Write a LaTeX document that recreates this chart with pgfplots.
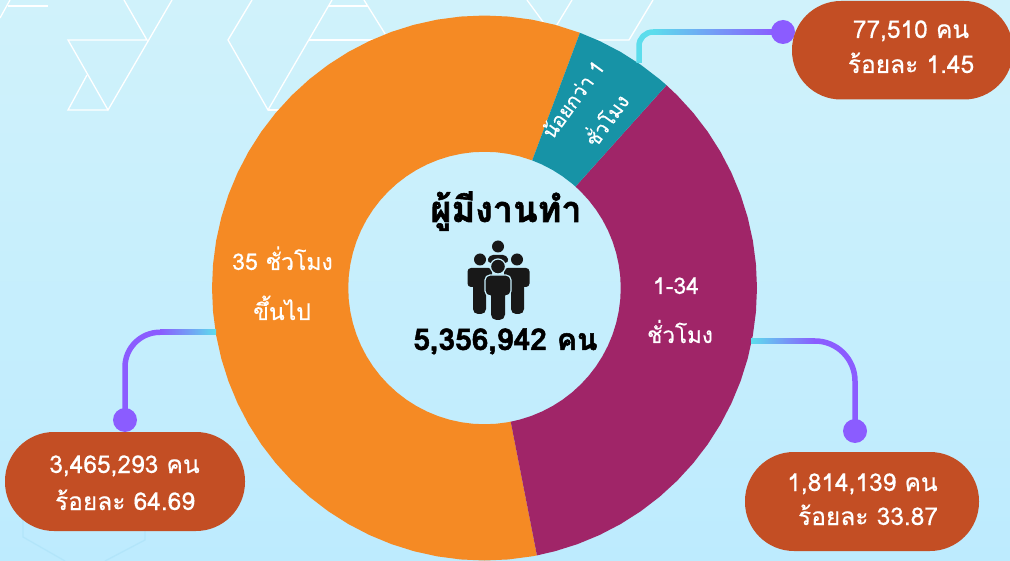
\documentclass[border=0pt]{standalone}
\usepackage{pgfplots}
\pgfplotsset{compat=1.18}
\usepgfplotslibrary{polar}
\usepackage{fontspec}
\setmainfont[Script=Thai,FakeBold=0.4]{Loma}
\newfontfamily\heavyfont[Script=Thai,FakeBold=1.6]{Loma Bold}

\definecolor{colOrange}{HTML}{F58A24}
\definecolor{colTeal}{HTML}{1793A6}
\definecolor{colPurple}{HTML}{A02568}
\definecolor{colPill}{HTML}{C34E24}
\definecolor{colCyan}{HTML}{5CDDEC}
\definecolor{colLine}{HTML}{8B5CFF}
\definecolor{colInk}{HTML}{181818}
\definecolor{colBgTop}{RGB}{208,242,251}
\definecolor{colBgBot}{RGB}{189,235,254}
\definecolor{colHole}{RGB}{200,240,253}
\definecolor{colFaint}{RGB}{178,229,250}

\newcommand{\lab}[4][24.5]{\node[white,anchor=base,inner sep=0pt,#2] at (#3) {\fontsize{#1}{#1}\selectfont #4};}

\begin{document}
\begin{tikzpicture}[x=1pt,y=-1pt]
\useasboundingbox (0,0) rectangle (1010,561);
\clip (0,0) rectangle (1010,561);
\shade[top color=colBgTop,bottom color=colBgBot] (0,0) rectangle (1010,561);

% background pattern
\begin{scope}[white,line width=1.3pt,line join=miter]
\draw (0,18) -- (10,0);
\draw (48,6) -- (8,6);
\draw (124,0) -- (147,40) -- (68,40) -- (108,110) -- (172,0);
\draw (87,75) -- (68,110) -- (108,110);
\draw (252,0) -- (228,40) -- (268,110) -- (332,0);
\draw (268,110) -- (300,110);
\draw (309,40) -- (400,40);
\draw (328,6) -- (368,6);
\draw (364,0) -- (392,45);
\draw (527,0) -- (560,45);
\draw (572,0) -- (555,28);
\draw (653,0) -- (629,40) -- (570,40);
\end{scope}
\draw[colFaint,line width=1.3pt] (23,520) -- (23,537) -- (65,561);
\draw[colFaint,line width=1.3pt] (145,530) -- (145,540) -- (105,561);

% donut: angle in degrees, radius as share of outer edge
\begin{polaraxis}[
    at={(484.5pt,-288pt)},
    anchor=center,
    scale only axis,
    width=545pt,
    height=545pt,
    xmin=0,xmax=360,
    ymin=0,ymax=1,
    hide axis,
    clip=false,
]
% 35 hours and over
\addplot[fill=colOrange,draw=none] coordinates {
    (69.5,1) (75,1) (80,1) (85,1) (90,1) (95,1) (100,1) (105,1) (110,1) (115,1) (120,1)
    (125,1) (130,1) (135,1) (140,1) (145,1) (150,1) (155,1) (160,1) (165,1) (170,1)
    (175,1) (180,1) (185,1) (190,1) (195,1) (200,1) (205,1) (210,1) (215,1) (220,1)
    (225,1) (230,1) (235,1) (240,1) (245,1) (250,1) (255,1) (260,1) (265,1) (270,1)
    (275,1) (280,1) (281.1,1)
    (281.1,.5) (280,.5) (275,.5)
    (270,.5) (265,.5) (260,.5) (255,.5) (250,.5) (245,.5) (240,.5) (235,.5) (230,.5) (225,.5)
    (220,.5) (215,.5) (210,.5) (205,.5) (200,.5) (195,.5) (190,.5) (185,.5) (180,.5) (175,.5)
    (170,.5) (165,.5) (160,.5) (155,.5) (150,.5) (145,.5) (140,.5) (135,.5) (130,.5) (125,.5)
    (120,.5) (115,.5) (110,.5) (105,.5) (100,.5) (95,.5) (90,.5) (85,.5) (80,.5) (75,.5) (69.5,.5)
} -- cycle;
% 1-34 hours
\addplot[fill=colPurple,draw=none] coordinates {
    (-78.9,1) (-75,1) (-70,1) (-65,1) (-60,1) (-55,1) (-50,1) (-45,1) (-40,1) (-35,1) (-30,1)
    (-25,1) (-20,1) (-15,1) (-10,1) (-5,1) (0,1) (5,1) (10,1) (15,1) (20,1)
    (25,1) (30,1) (35,1) (40,1) (45,1) (48.1,1)
    (48.1,.5) (45,.5) (40,.5) (35,.5) (30,.5) (25,.5)
    (20,.5) (15,.5) (10,.5) (5,.5) (0,.5) (-5,.5) (-10,.5) (-15,.5) (-20,.5) (-25,.5)
    (-30,.5) (-35,.5) (-40,.5) (-45,.5) (-50,.5) (-55,.5) (-60,.5) (-65,.5) (-70,.5) (-75,.5) (-78.9,.5)
} -- cycle;
% under 1 hour
\addplot[fill=colTeal,draw=none] coordinates {
    (48.1,1) (50,1) (55,1) (60,1) (65,1) (69.5,1)
    (69.5,.5) (65,.5) (60,.5) (55,.5) (50,.5) (48.1,.5)
} -- cycle;
\end{polaraxis}

% connectors
\begin{scope}[line width=5.5pt]
\draw[colCyan] (639,63) -- (639,46) .. controls (639,38.3) and (645.3,32) .. (653,32);
\shade[left color=colCyan,right color=colLine] (653,29.25) rectangle (775,34.75);
\shade[left color=colLine,right color=colCyan] (160,329.5) rectangle (216,335);
\draw[colLine] (125,415) -- (125,367) .. controls (125,347.8) and (140.8,332.25) .. (160,332.25);
\shade[left color=colCyan,right color=colLine] (751,338.25) rectangle (815,343.75);
\draw[colLine] (815,341) .. controls (837,341) and (855,359) .. (855,381) -- (855,425);
\end{scope}
\fill[colLine] (783,32) circle (12);
\fill[colLine] (125,420) circle (12);
\fill[colLine] (855,431) circle (12);

% pills
\fill[colPill,rounded corners=49pt] (792,1) rectangle (1013,99.5);
\fill[colPill,rounded corners=49pt] (5,432) rectangle (245,531);
\fill[colPill,rounded corners=49pt] (745,452) rectangle (979,551);

\lab{}{911,38}{77,510 คน}
\lab{}{911,73}{ร้อยละ 1.45}
\lab{}{124.5,473}{3,465,293 คน}
\lab{}{125,510}{ร้อยละ 64.69}
\lab{}{862.5,491}{1,814,139 คน}
\lab{}{868,525}{ร้อยละ 33.87}

% slice labels
\lab[23]{}{282.5,270}{35 ชั่วโมง}
\lab[23]{}{282,320}{ขึ้นไป}
\lab[23]{}{676,294}{1-34}
\lab[22.5]{}{680,343}{ชั่วโมง}
\lab[20]{rotate=54}{579,104}{น้อยกว่า 1}
\lab[20]{rotate=54}{613,125}{ชั่วโมง}

% centre
\node[black,anchor=base,inner sep=0pt] at (506,222) {\fontsize{36}{36}\selectfont\heavyfont ผู้มีงานทำ};
\node[black,anchor=base,inner sep=0pt] at (505.5,350) {\fontsize{30}{30}\selectfont\heavyfont 5,356,942 คน};

% people icon
\begin{scope}[colInk]
\fill (498,246.5) circle (6);
\fill[rounded corners=4pt] (487,263) -- (489,255) -- (507,255) -- (509,263) -- cycle;
\fill (480,259.5) circle (6);
\fill (517,259.5) circle (6);
\fill[rounded corners=3.5pt] (467.5,268) rectangle (492,287);
\fill[rounded corners=3.5pt] (504,268) rectangle (529.5,287);
\fill[rounded corners=5pt] (473,280) rectangle (486,314);
\fill[rounded corners=5pt] (511,280) rectangle (524,314);
\fill[colInk,draw=colHole,line width=1.2pt] (498,266.5) circle (7.5);
\fill[colInk,draw=colHole,line width=1.2pt,rounded corners=5pt] (485,275) rectangle (511,296);
\fill[rounded corners=5.5pt] (491,285) rectangle (505,320);
\end{scope}
\end{tikzpicture}
\end{document}
